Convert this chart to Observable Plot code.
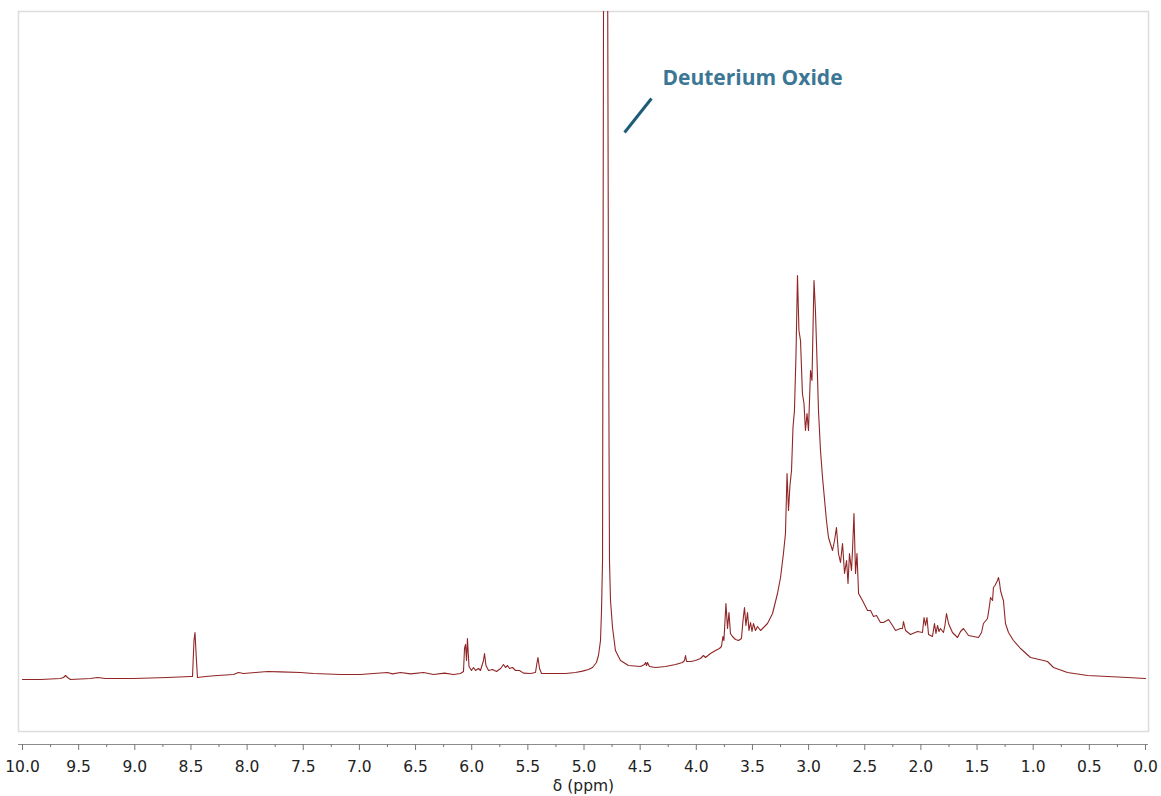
<!DOCTYPE html>
<html>
<head>
<meta charset="utf-8">
<script src="https://cdn.jsdelivr.net/npm/d3@7"></script>
<script src="https://cdn.jsdelivr.net/npm/@observablehq/plot@0.6"></script>
<style>
  html, body { margin: 0; padding: 0; background: #fff; }
  #chart svg { display: block; }
</style>
</head>
<body>
<div id="chart"></div>
<script>
// Chemical shift (ppm) of each sampled point of the 1H NMR trace
const shiftPpm = [
  10.000, 9.840, 9.662, 9.635, 9.617, 9.599, 9.573, 9.394, 9.332, 9.261, 9.012, 8.709, 8.504, 8.486,
  8.473, 8.464, 8.451, 8.442, 8.370, 8.264, 8.121, 8.077, 8.032, 7.925, 7.818, 7.703, 7.524, 7.409,
  7.168, 6.990, 6.874, 6.750, 6.705, 6.634, 6.545, 6.429, 6.340, 6.242, 6.162, 6.100, 6.073, 6.064,
  6.055, 6.046, 6.038, 6.024, 6.002, 5.984, 5.966, 5.939, 5.922, 5.895, 5.886, 5.873, 5.850, 5.815,
  5.779, 5.743, 5.717, 5.699, 5.681, 5.663, 5.637, 5.610, 5.574, 5.539, 5.476, 5.432, 5.418, 5.410,
  5.396, 5.378, 5.298, 5.165, 5.076, 5.013, 4.960, 4.924, 4.889, 4.871, 4.853, 4.844, 4.835, 4.826,
  4.818, 4.806, 4.794, 4.789, 4.782, 4.773, 4.764, 4.746, 4.720, 4.675, 4.604, 4.497, 4.461, 4.452,
  4.443, 4.435, 4.417, 4.363, 4.274, 4.185, 4.123, 4.105, 4.096, 4.087, 4.052, 4.007, 3.963, 3.936,
  3.918, 3.874, 3.829, 3.794, 3.776, 3.763, 3.754, 3.736, 3.722, 3.709, 3.696, 3.678, 3.651, 3.624,
  3.598, 3.584, 3.571, 3.558, 3.544, 3.531, 3.517, 3.504, 3.491, 3.473, 3.455, 3.428, 3.401, 3.366,
  3.321, 3.277, 3.250, 3.224, 3.206, 3.192, 3.179, 3.166, 3.152, 3.139, 3.126, 3.112, 3.099, 3.086,
  3.072, 3.055, 3.041, 3.028, 3.014, 3.001, 2.983, 2.970, 2.952, 2.939, 2.925, 2.912, 2.894, 2.876,
  2.863, 2.841, 2.823, 2.787, 2.769, 2.752, 2.734, 2.716, 2.698, 2.680, 2.662, 2.649, 2.636, 2.618,
  2.609, 2.596, 2.582, 2.569, 2.555, 2.520, 2.475, 2.448, 2.422, 2.395, 2.360, 2.333, 2.288, 2.253,
  2.226, 2.181, 2.164, 2.155, 2.137, 2.093, 2.030, 1.986, 1.972, 1.959, 1.946, 1.932, 1.897, 1.879,
  1.866, 1.852, 1.839, 1.826, 1.799, 1.786, 1.772, 1.754, 1.719, 1.674, 1.647, 1.621, 1.576, 1.532,
  1.487, 1.460, 1.443, 1.407, 1.389, 1.380, 1.362, 1.354, 1.340, 1.327, 1.318, 1.309, 1.300, 1.291,
  1.274, 1.265, 1.247, 1.220, 1.176, 1.113, 1.024, 0.908, 0.873, 0.819, 0.695, 0.516, 0.338, 0.160,
  0.000
];

// Relative intensity (a.u.) at each point above
const relIntensity = [
  0, 0, 0.25, 0.5, 1.0, 0.5, 0, 0.25, 0.5, 0.25, 0.25, 0.5, 0.75, 0.75,
  9.75, 11.75, 4.75, 0.5, 0.75, 1.0, 1.25, 1.75, 1.5, 1.75, 2.0, 1.9, 1.75, 1.5,
  1.25, 1.25, 1.5, 1.75, 1.4, 1.75, 1.4, 1.75, 1.25, 1.6, 1.25, 1.5, 2.0, 7.75,
  8.75, 4.75, 10.25, 3.25, 2.25, 3.0, 2.25, 2.75, 2.25, 4.75, 6.5, 3.5, 2.25, 2.5,
  2.0, 2.75, 3.75, 3.0, 3.5, 2.75, 3.0, 2.25, 2.25, 1.6, 1.5, 1.75, 4.25, 5.5,
  2.75, 1.5, 1.5, 1.5, 1.75, 2.1, 2.5, 3.0, 4.25, 6.0, 9.75, 17.25, 29.75, 170,
  800, 2500, 800, 170, 95, 29.75, 19.75, 13.0, 7.25, 4.75, 3.5, 3.25, 3.75, 4.25,
  3.5, 4.25, 3.25, 3.0, 3.25, 3.75, 4.25, 4.75, 6.0, 4.5, 4.5, 4.75, 5.25, 6.0,
  5.5, 6.5, 7.25, 7.75, 8.25, 10.75, 9.75, 19.0, 12.75, 16.75, 11.5, 10.75, 10.0, 9.75,
  10.25, 14.75, 18.0, 13.5, 16.75, 12.25, 14.25, 12.0, 14.0, 12.25, 13.25, 12.25, 13.0, 14.0,
  16.5, 21.5, 25.5, 31.5, 36.5, 51.5, 42.25, 48.5, 52.25, 63.0, 67.25, 81.5, 101.0, 87.25,
  84.75, 71.5, 69.0, 62.25, 66.5, 62.25, 77.25, 74.75, 99.75, 92.25, 79.75, 67.25, 57.25, 50.5,
  46.5, 39.75, 35.5, 32.25, 34.75, 38.0, 31.5, 29.25, 34.0, 26.5, 29.75, 24.0, 31.5, 27.25,
  32.25, 41.5, 26.5, 31.5, 21.5, 19.75, 17.25, 17.25, 15.75, 16.0, 14.25, 14.25, 15.0, 13.5,
  12.25, 12.75, 12.75, 14.5, 12.25, 11.25, 12.0, 11.75, 15.5, 13.5, 15.5, 11.25, 10.75, 14.0,
  11.5, 13.5, 12.0, 12.75, 11.75, 13.5, 16.5, 14.0, 11.75, 10.5, 12.0, 12.75, 11.0, 10.75,
  10.5, 11.75, 14.0, 15.25, 18.5, 20.5, 19.75, 23.0, 23.5, 24.25, 24.75, 25.5, 24.25, 22.25,
  20.5, 19.75, 14.0, 11.75, 9.75, 7.75, 5.5, 4.75, 4.5, 3.0, 1.75, 1.0, 0.75, 0.5,
  0.25
];

// Axis ticks
const majorTicks = [10.0, 9.5, 9.0, 8.5, 8.0, 7.5, 7.0, 6.5, 6.0, 5.5, 5.0, 4.5, 4.0, 3.5, 3.0, 2.5, 2.0, 1.5, 1.0, 0.5, 0.0];
const minorTicks = [9.75, 9.25, 8.75, 8.25, 7.75, 7.25, 6.75, 6.25, 5.75, 5.25, 4.75, 4.25, 3.75, 3.25, 2.75, 2.25, 1.75, 1.25, 0.75, 0.25];
const axisTitle = ["δ (ppm)"];

// Annotation (solvent peak label and its pointer)
const annotationLabels = [{ppm: 4.301, value: 150.25, text: "Deuterium Oxide"}];
const annotationPointers = [{ppm1: 4.639, value1: 136.75, ppm2: 4.399, value2: 145.25}];

const spectrum = shiftPpm.map((p, i) => ({ppm: p, value: relIntensity[i]}));

const AXIS_OFFSET = 13;

const chart = Plot.plot({
  width: 1161,
  height: 796,
  marginTop: 11,
  marginBottom: 65,
  marginLeft: 18,
  marginRight: 13,
  style: {fontFamily: "'DejaVu Sans', Verdana, sans-serif", background: "#fff"},
  x: {domain: [10, 0], insetLeft: 4, insetRight: 3},
  y: {domain: [-13, 167], axis: null},
  marks: [
    Plot.frame({stroke: "#dcdcdc", strokeWidth: 1.5}),
    Plot.lineY(spectrum, {x: "ppm", y: "value", stroke: "#902626", strokeWidth: 1.1, clip: true}),
    Plot.ruleY([-13], {dy: AXIS_OFFSET, stroke: "#8c8c8c", strokeWidth: 1}),
    Plot.axisX(majorTicks, {
      tickSize: 6, tickPadding: 10, dy: AXIS_OFFSET, stroke: "#777",
      tickFormat: d => d.toFixed(1), fontSize: 15.5, fill: "#222", label: null
    }),
    Plot.axisX(minorTicks, {
      tickSize: 3, dy: AXIS_OFFSET, stroke: "#777", tickFormat: () => "", label: null
    }),
    Plot.text(axisTitle, {
      frameAnchor: "bottom", dy: 55, text: d => d, fontSize: 15.5, fill: "#222", lineAnchor: "middle"
    }),
    Plot.link(annotationPointers, {
      x1: "ppm1", y1: "value1", x2: "ppm2", y2: "value2", stroke: "#1d5d78", strokeWidth: 3
    }),
    Plot.text(annotationLabels, {
      x: "ppm", y: "value", text: "text", textAnchor: "start", fill: "#3b7795",
      fontWeight: "bold", fontSize: 21, fontFamily: "'Open Sans', sans-serif"
    })
  ]
});

document.getElementById("chart").appendChild(chart);
</script>
</body>
</html>
